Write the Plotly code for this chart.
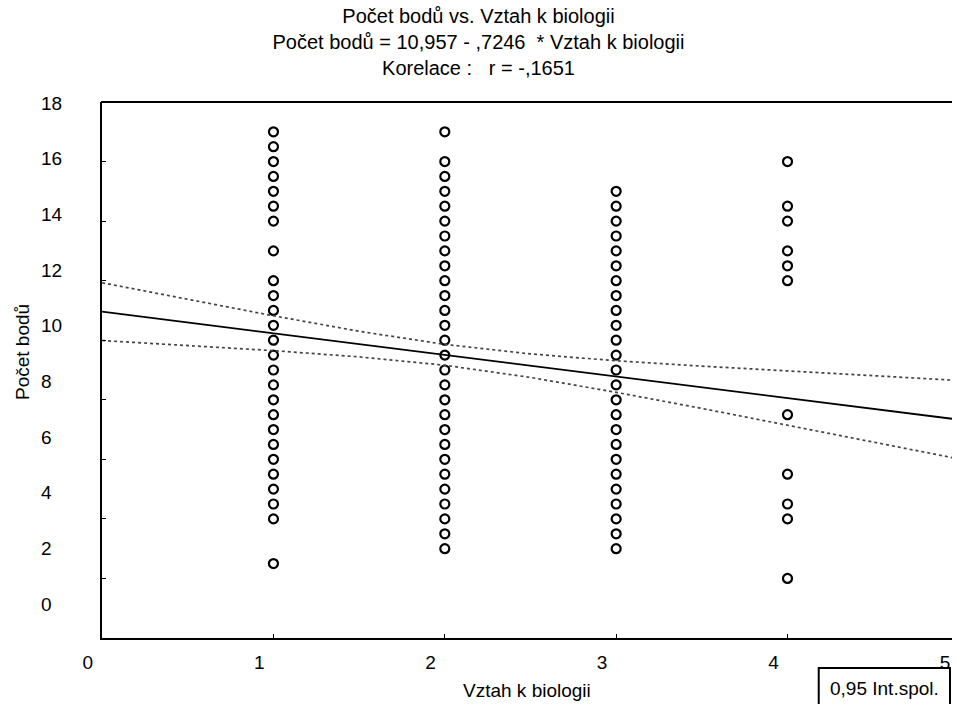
import plotly.graph_objects as go

# ---------------- data ----------------
col1_y = [17, 16.5, 16, 15.5, 15, 14.5, 14, 13, 12, 11.5, 11, 10.5, 10, 9.5, 9,
          8.5, 8, 7.5, 7, 6.5, 6, 5.5, 5, 4.5, 4, 2.5]
col2_y = [17, 16, 15.5, 15, 14.5, 14, 13.5, 13, 12.5, 12, 11.5, 11, 10.5, 10, 9.5,
          9, 8.5, 8, 7.5, 7, 6.5, 6, 5.5, 5, 4.5, 4, 3.5, 3]
col3_y = [15, 14.5, 14, 13.5, 13, 12.5, 12, 11.5, 11, 10.5, 10, 9.5, 9, 8.5, 8,
          7.5, 7, 6.5, 6, 5.5, 5, 4.5, 4, 3.5, 3]
col4_y = [16, 14.5, 14, 13, 12.5, 12, 7.5, 5.5, 4.5, 4, 2]

reg_x = [0, 4.96]
reg_y = [10.957, 7.363]

ci_x = [0, 0.5, 1, 1.5, 2, 2.5, 3, 3.5, 4, 4.5, 4.96]
ci_upper = [11.93, 11.37, 10.82, 10.30, 9.86, 9.54, 9.31, 9.13, 8.96, 8.81, 8.66]
ci_lower = [9.99, 9.82, 9.65, 9.44, 9.16, 8.75, 8.25, 7.71, 7.15, 6.59, 6.06]

x_ticks = [0, 1, 2, 3, 4, 5]
y_ticks = [0, 2, 4, 6, 8, 10, 12, 14, 16, 18]

title_lines = ["Počet bodů vs. Vztah k biologii",
               "Počet bodů = 10,957 - ,7246  * Vztah k biologii",
               "Korelace :   r = -,1651"]
x_title = "Vztah k biologii"
y_title = "Počet bodů"
legend_text = "0,95 Int.spol."

# ---------------- layout geometry ----------------
W, H = 957, 704
ML, MR, MT, MB = 30, 0, 102, 66
PW = W - ML - MR
PH = H - MT - MB


def px(xpix):
    return (xpix - ML) / PW


def py(ypix):
    return (H - MB - ypix) / PH


FONT = "Arial, Liberation Sans, sans-serif"
CLEAR = "rgba(0,0,0,0)"

fig = go.Figure()

marker = dict(symbol="circle-open", size=9, color="black", line=dict(width=2.2, color="black"))
for xv, ys in [(1, col1_y), (2, col2_y), (3, col3_y), (4, col4_y)]:
    fig.add_trace(go.Scatter(x=[xv] * len(ys), y=ys, mode="markers", marker=marker,
                             showlegend=False, hoverinfo="x+y"))

fig.add_trace(go.Scatter(x=ci_x, y=ci_upper, mode="lines",
                         line=dict(color="#444444", width=1.7, dash="dot"), showlegend=False))
fig.add_trace(go.Scatter(x=ci_x, y=ci_lower, mode="lines",
                         line=dict(color="#444444", width=1.7, dash="dot"), showlegend=False))
fig.add_trace(go.Scatter(x=reg_x, y=reg_y, mode="lines",
                         line=dict(color="black", width=1.8), showlegend=False))

# empty helper traces so the label-only axes get drawn
fig.add_trace(go.Scatter(x=[], y=[], xaxis="x2", yaxis="y", showlegend=False))
fig.add_trace(go.Scatter(x=[], y=[], xaxis="x", yaxis="y2", showlegend=False))

fig.update_layout(
    width=W, height=H,
    margin=dict(l=ML, r=MR, t=MT, b=MB),
    paper_bgcolor="white", plot_bgcolor=CLEAR,
    font=dict(family=FONT, color="black", size=19),
    title=dict(text="<br>".join(title_lines), x=0.5, xref="container", xanchor="center",
               y=1 - 23 / H, yref="container", yanchor="top",
               font=dict(family=FONT, size=20, color="black")),
    xaxis=dict(domain=[px(102.5), 1], range=[0, 4.96], showgrid=False, zeroline=False,
               showline=True, linecolor="black", linewidth=2,
               ticks="inside", tickvals=[1, 2, 3, 4], ticklen=4, tickcolor="black",
               showticklabels=False, anchor="y"),
    yaxis=dict(domain=[0, 1], range=[0, 18], showgrid=False, zeroline=False,
               showline=True, linecolor="black", linewidth=2,
               ticks="inside", tickvals=[2, 4, 6, 8, 10, 12, 14, 16], ticklen=4,
               tickcolor="black", showticklabels=False, anchor="x"),
    xaxis2=dict(domain=[px(88), px(950)], range=[0, 5], anchor="y", side="bottom",
                showgrid=False, zeroline=False, showline=False, ticks="",
                tickvals=x_ticks, ticktext=[str(v) for v in x_ticks],
                ticklabelstandoff=11,
                tickfont=dict(size=19, family=FONT), fixedrange=True),
    yaxis2=dict(domain=[py(604), py(103)], range=[0, 18], anchor="free", side="right",
                position=px(40), showgrid=False, zeroline=False, showline=False, ticks="",
                tickvals=y_ticks, ticktext=[str(v) for v in y_ticks],
                tickfont=dict(size=19, family=FONT), fixedrange=True),
)

# top frame line (right frame edge lies outside the picture)
fig.add_shape(type="line", xref="paper", yref="paper", x0=px(101.5), x1=1, y0=1, y1=1,
              line=dict(color="black", width=2))

# axis titles
fig.add_annotation(text=x_title, xref="paper", yref="paper", x=px(530), y=py(690),
                   showarrow=False, xanchor="center", yanchor="middle",
                   font=dict(size=19, family=FONT))
fig.add_annotation(text=y_title, xref="paper", yref="paper", x=px(22), y=py(352),
                   showarrow=False, xanchor="center", yanchor="middle", textangle=-90,
                   font=dict(size=19, family=FONT))

# legend box
fig.add_shape(type="rect", xref="paper", yref="paper", x0=px(823), x1=px(955),
              y0=py(668), y1=py(708), line=dict(color="black", width=2), fillcolor="white")
fig.add_annotation(text=legend_text, xref="paper", yref="paper", x=px(889), y=py(688),
                   showarrow=False, xanchor="center", yanchor="middle",
                   font=dict(size=19, family=FONT))

fig.write_html("out.html")
